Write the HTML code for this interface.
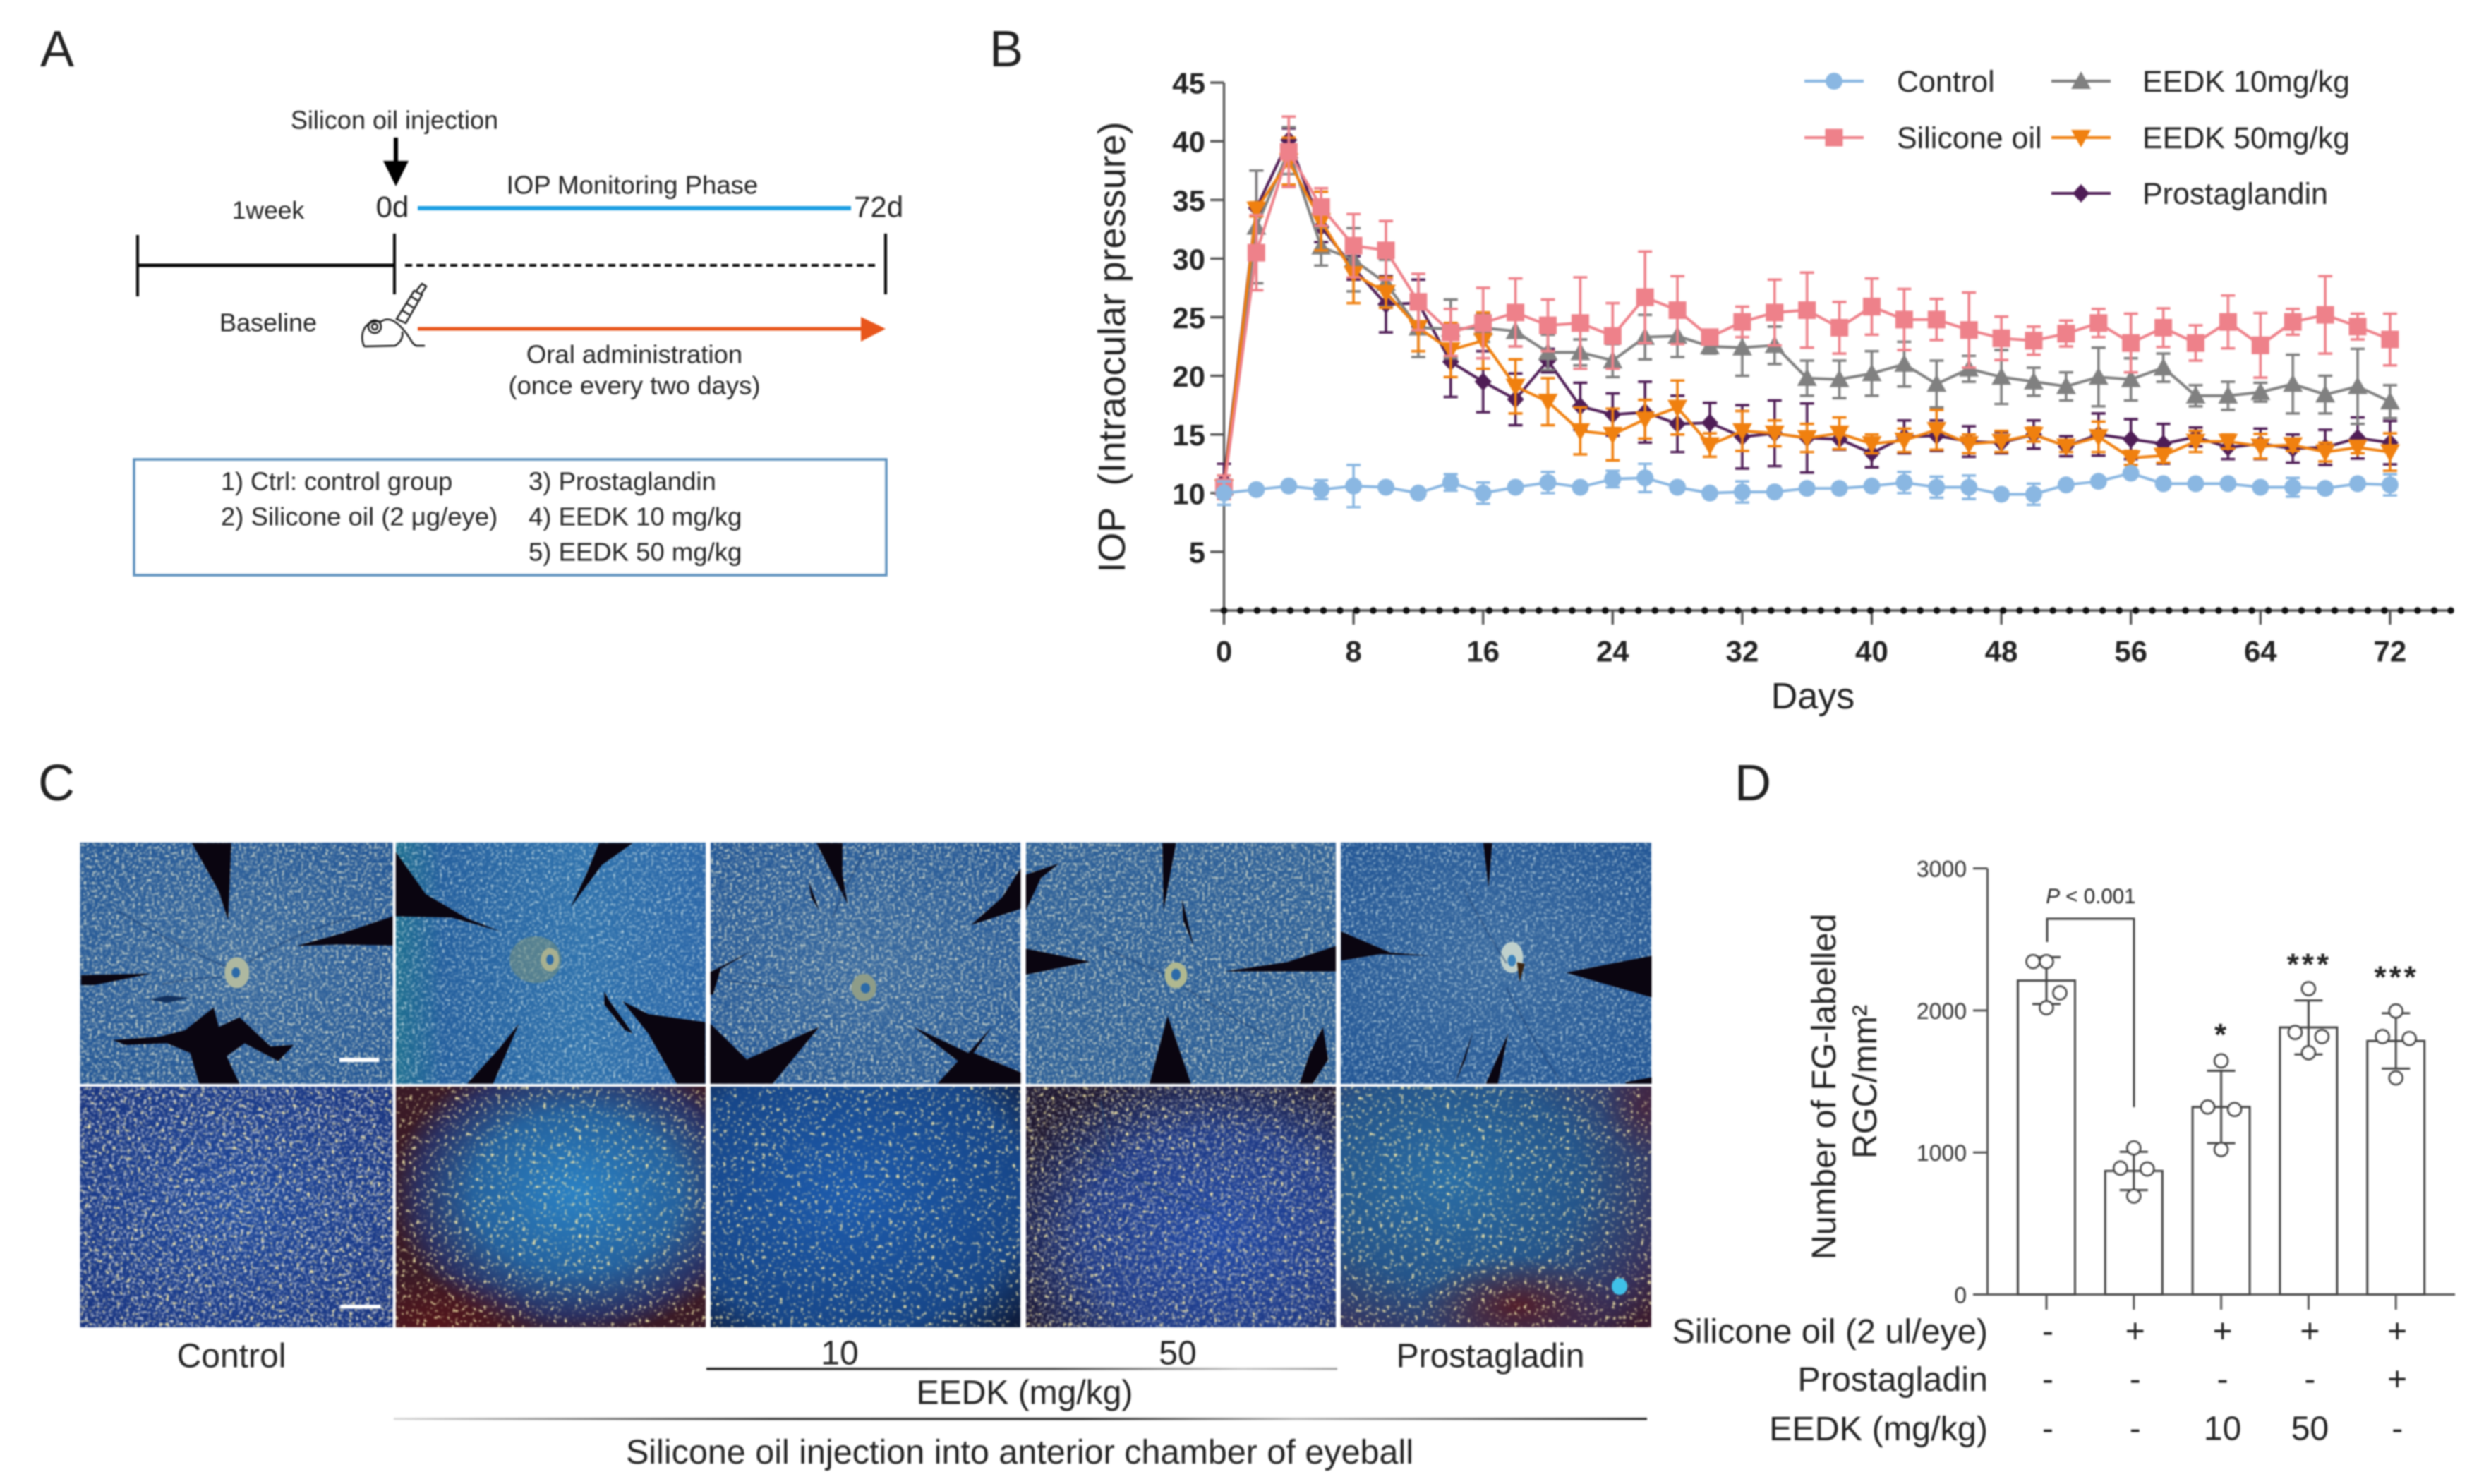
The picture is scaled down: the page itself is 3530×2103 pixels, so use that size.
<!DOCTYPE html>
<html lang="en">
<head>
<meta charset="utf-8">
<title>IOP and RGC figure</title>
<style>
html,body{margin:0;padding:0;background:#fff;width:3530px;height:2103px;overflow:hidden}
svg{display:block;filter:blur(1.1px)}
text{font-family:"Liberation Sans",Arial,sans-serif;fill:#222;dominant-baseline:central}
</style>
</head>
<body>
<svg id="fig" xmlns="http://www.w3.org/2000/svg" width="3530" height="2103" viewBox="0 0 3530 2103">
<defs>
<clipPath id="clipSil"><rect x="561" y="1540" width="439" height="341"/></clipPath>
<clipPath id="clipPro"><rect x="1900" y="1540" width="440" height="341"/></clipPath>
<filter id="speckTop" x="0" y="0" width="100%" height="100%"><feTurbulence type="fractalNoise" baseFrequency="0.26" numOctaves="2" seed="4"/><feColorMatrix type="matrix" values="0 0 0 0 .74  0 0 0 0 .77  0 0 0 0 .62  3.6 0 0 0 -1.78"/><feGaussianBlur stdDeviation="0.9"/></filter>
<filter id="speckTopSoft" x="0" y="0" width="100%" height="100%"><feTurbulence type="fractalNoise" baseFrequency="0.26" numOctaves="2" seed="9"/><feColorMatrix type="matrix" values="0 0 0 0 .66  0 0 0 0 .8  0 0 0 0 .8  3.2 0 0 0 -1.66"/><feGaussianBlur stdDeviation="0.9"/></filter>
<filter id="speckGrey" x="0" y="0" width="100%" height="100%"><feTurbulence type="fractalNoise" baseFrequency="0.24" numOctaves="2" seed="12"/><feColorMatrix type="matrix" values="0 0 0 0 .72  0 0 0 0 .74  0 0 0 0 .72  3.6 0 0 0 -1.85"/><feGaussianBlur stdDeviation="0.9"/></filter>
<filter id="speckYellow" x="0" y="0" width="100%" height="100%"><feTurbulence type="fractalNoise" baseFrequency="0.2" numOctaves="2" seed="21"/><feColorMatrix type="matrix" values="0 0 0 0 .93  0 0 0 0 .82  0 0 0 0 .4  8 0 0 0 -4.9"/><feGaussianBlur stdDeviation="0.8"/></filter>
<radialGradient id="topA" cx="50%" cy="50%" r="70%"><stop offset="0" stop-color="#38699f"/><stop offset="1" stop-color="#215595"/></radialGradient>
<linearGradient id="topB" x1="0" y1="0" x2="1" y2="0"><stop offset="0" stop-color="#1e6f90"/><stop offset=".15" stop-color="#245f9e"/><stop offset=".6" stop-color="#2f72ad"/><stop offset="1" stop-color="#2a66a8"/></linearGradient>
<radialGradient id="botA" cx="50%" cy="50%" r="75%"><stop offset="0" stop-color="#1f4a9e"/><stop offset="1" stop-color="#152f7c"/></radialGradient>
<radialGradient id="botB" cx="58%" cy="44%" r="60%"><stop offset="0" stop-color="#2b82c4"/><stop offset=".55" stop-color="#25629e"/><stop offset=".85" stop-color="#2a2f60"/><stop offset="1" stop-color="#3a1a26"/></radialGradient>
<radialGradient id="botC" cx="45%" cy="45%" r="75%"><stop offset="0" stop-color="#1d5cae"/><stop offset=".75" stop-color="#174688"/><stop offset="1" stop-color="#0e1c3c"/></radialGradient>
<radialGradient id="botD" cx="62%" cy="62%" r="72%"><stop offset="0" stop-color="#2048a4"/><stop offset=".6" stop-color="#1f3a86"/><stop offset="1" stop-color="#1f1830"/></radialGradient>
<radialGradient id="botE" cx="35%" cy="38%" r="85%"><stop offset="0" stop-color="#2a6ea6"/><stop offset=".5" stop-color="#25558a"/><stop offset=".85" stop-color="#36305a"/><stop offset="1" stop-color="#3a1c30"/></radialGradient>
<radialGradient id="redPatch"><stop offset="0" stop-color="#5a1418" stop-opacity=".8"/><stop offset="1" stop-color="#5a1418" stop-opacity="0"/></radialGradient>
<linearGradient id="lineEedk" x1="0" y1="0" x2="1" y2="0"><stop offset="0" stop-color="#222"/><stop offset=".55" stop-color="#555"/><stop offset=".85" stop-color="#ccc"/><stop offset="1" stop-color="#aaa"/></linearGradient>
<linearGradient id="lineInj" x1="0" y1="0" x2="1" y2="0"><stop offset="0" stop-color="#ddd"/><stop offset=".3" stop-color="#444"/><stop offset=".55" stop-color="#333"/><stop offset=".72" stop-color="#bbb"/><stop offset="1" stop-color="#333"/></linearGradient>
</defs>

<text x="81" y="70" font-size="72" text-anchor="middle">A</text>
<text x="1426" y="70" font-size="72" text-anchor="middle">B</text>
<text x="80" y="1110" font-size="72" text-anchor="middle">C</text>
<text x="2484" y="1110" font-size="72" text-anchor="middle">D</text>

<!-- Panel A -->
<g>
<text x="559" y="170" font-size="36" text-anchor="middle">Silicon oil injection</text>
<line x1="561" y1="195" x2="561" y2="232" stroke="#000" stroke-width="6"/>
<polygon points="543,228 579,228 561,264" fill="#000"/>
<text x="556" y="293" font-size="42" text-anchor="middle">0d</text>
<text x="380" y="298" font-size="35.5" text-anchor="middle">1week</text>
<line x1="592" y1="295" x2="1206" y2="295" stroke="#1f9fe3" stroke-width="6"/>
<text x="896" y="262" font-size="36.5" text-anchor="middle">IOP Monitoring Phase</text>
<text x="1210" y="293" font-size="42">72d</text>
<line x1="195" y1="376" x2="559" y2="376" stroke="#000" stroke-width="5"/>
<line x1="195" y1="333" x2="195" y2="420" stroke="#000" stroke-width="4"/>
<line x1="559" y1="331" x2="559" y2="417" stroke="#000" stroke-width="4"/>
<line x1="1255" y1="331" x2="1255" y2="417" stroke="#000" stroke-width="4"/>
<line x1="574" y1="376" x2="1246" y2="376" stroke="#000" stroke-width="4" stroke-dasharray="10 6"/>
<text x="380" y="457" font-size="36" text-anchor="middle">Baseline</text>
<g fill="none" stroke="#111" stroke-width="2.4">
<path d="M516 491 C508 472 518 452 540 456 C552 446 566 460 574 470 C582 480 584 488 590 490 L602 490 M516 491 L560 490 C566 486 572 480 570 470"/>
<circle cx="531" cy="463" r="9"/><circle cx="531" cy="463" r="4"/>
<polygon points="562,452 587,412 598,418 575,458"/>
<path d="M570 440 L580 446 M576 430 L586 436 M582 420 L592 426 M590 412 L598 402 L604 406 L596 418"/>
</g>
<line x1="592" y1="466" x2="1222" y2="466" stroke="#e8561c" stroke-width="5"/>
<polygon points="1220,449 1255,466 1220,484" fill="#e8561c"/>
<text x="899" y="502" font-size="36.5" text-anchor="middle">Oral administration</text>
<text x="899" y="546" font-size="36.5" text-anchor="middle">(once every two days)</text>
<rect x="190" y="651" width="1066" height="164" fill="none" stroke="#5b8fbd" stroke-width="3.5"/>
<text x="313" y="682" font-size="36">1) Ctrl: control group</text>
<text x="313" y="732" font-size="36.5">2) Silicone oil (2 μg/eye)</text>
<text x="749" y="682" font-size="36.5">3) Prostaglandin</text>
<text x="749" y="732" font-size="36.5">4) EEDK 10 mg/kg</text>
<text x="749" y="782" font-size="36.5">5) EEDK 50 mg/kg</text>
</g>

<!-- Panel C photos -->
<g>
<g>
<rect x="113.500" y="1194" width="443" height="342" fill="url(#topA)"/>
<rect x="113.500" y="1194" width="443" height="342" filter="url(#speckTop)"/>
</g>
<g>
<rect x="561" y="1194" width="439" height="342" fill="url(#topB)"/>
<rect x="561" y="1194" width="439" height="342" filter="url(#speckTopSoft)"/>
</g>
<g>
<rect x="1007" y="1194" width="439" height="342" fill="url(#topA)"/>
<rect x="1007" y="1194" width="439" height="342" filter="url(#speckTop)"/>
</g>
<g>
<rect x="1454" y="1194" width="439" height="342" fill="#2c5f98"/>
<rect x="1454" y="1194" width="439" height="342" filter="url(#speckTop)"/>
</g>
<g>
<rect x="1900" y="1194" width="440" height="342" fill="url(#topA)"/>
<rect x="1900" y="1194" width="440" height="342" filter="url(#speckTopSoft)"/>
</g>
<g>
<rect x="113.500" y="1540" width="443" height="341" fill="url(#botA)"/>
<rect x="113.500" y="1540" width="443" height="341" filter="url(#speckGrey)"/>
<rect x="113.500" y="1540" width="443" height="341" filter="url(#speckYellow)"/>
</g>
<g>
<rect x="561" y="1540" width="439" height="341" fill="url(#botB)"/>
<g clip-path="url(#clipSil)"><ellipse cx="620" cy="1875" rx="150" ry="70" fill="url(#redPatch)"/></g>
<rect x="561" y="1540" width="439" height="341" filter="url(#speckYellow)"/>
</g>
<g>
<rect x="1007" y="1540" width="439" height="341" fill="url(#botC)"/>
<rect x="1007" y="1540" width="439" height="341" filter="url(#speckYellow)"/>
</g>
<g>
<rect x="1454" y="1540" width="439" height="341" fill="url(#botD)"/>
<rect x="1454" y="1540" width="439" height="341" filter="url(#speckGrey)" opacity=".65"/>
<rect x="1454" y="1540" width="439" height="341" filter="url(#speckYellow)"/>
</g>
<g>
<rect x="1900" y="1540" width="440" height="341" fill="url(#botE)"/>
<g clip-path="url(#clipPro)"><ellipse cx="2150" cy="1850" rx="140" ry="70" fill="url(#redPatch)"/><ellipse cx="2330" cy="1570" rx="60" ry="70" fill="url(#redPatch)" opacity=".5"/></g>
<rect x="1900" y="1540" width="440" height="341" filter="url(#speckYellow)"/>
<ellipse cx="2295" cy="1823" rx="11" ry="12" fill="#3fc0e8"/>
</g>
<g transform="translate(90 1180) scale(.7334 .4591)" fill="#0a0510">
<polygon points="248,32 324,32 318,270 300,180"/>
<polygon points="636,258 636,348 530,345 450,350 540,310"/>
<polygon points="34,440 170,435 60,470 34,470"/>
<polygon points="165,515 200,503 243,510 200,525" fill="#12305c"/>
<polygon points="95,640 185,630 235,610 270,565 290,540 300,600 340,570 400,660 445,655 415,705 350,650 315,690 340,775 262,775 245,680 200,650 120,655"/>
<polygon points="642,60 700,190 780,265 845,305 750,262 642,258"/>
<polygon points="1035,32 1100,32 1040,100 980,230 1010,130"/>
<polygon points="1080,520 1130,560 1240,585 1240,775 1185,775 1130,620"/>
<polygon points="880,590 830,775 780,775 840,670"/>
<polygon points="1045,490 1055,520 1100,620 1085,610 1045,530"/>
<polygon points="1455,32 1505,32 1505,130 1515,220"/>
<polygon points="1250,430 1330,365 1270,420 1255,500 1250,500"/>
<polygon points="1250,590 1320,700 1460,600 1370,775 1250,775"/>
<polygon points="1440,150 1460,240 1445,200"/>
<ellipse cx="335" cy="432" rx="24" ry="48" fill="#aeb8a0"/><ellipse cx="333" cy="432" rx="8" ry="16" fill="#2c6aa8"/>
<ellipse cx="912" cy="392" rx="50" ry="72" fill="#7d9478" opacity=".5"/><ellipse cx="940" cy="392" rx="18" ry="36" fill="#a8b090"/><ellipse cx="940" cy="392" rx="7" ry="16" fill="#2c6aa8"/>
<rect x="533" y="695" width="77" height="13" fill="#fff"/>
<rect x="535" y="1457" width="78" height="12" fill="#fff"/>
</g>
<g transform="translate(1200 1180) scale(.7334 .4591)" fill="#0a0510">
<polygon points="336,110 336,235 240,285 300,200"/>
<polygon points="130,600 235,680 280,600 245,680 336,740 336,775 175,775 215,705"/>
<polygon points="610,32 636,32 612,240"/>
<polygon points="346,130 410,95 375,140 346,240"/>
<polygon points="346,358 470,398 346,438"/>
<polygon points="945,350 945,428 730,428 850,400"/>
<polygon points="620,565 665,775 585,775"/>
<polygon points="920,600 930,700 900,775 875,775 895,680"/>
<polygon points="648,205 670,350 650,270"/>
<polygon points="1230,32 1247,32 1240,170"/>
<polygon points="955,305 1050,370 1130,380 1030,375 955,395"/>
<polygon points="1555,380 1555,508 1390,432"/>
<polygon points="1210,615 1175,775 1195,700"/>
<polygon points="1278,620 1258,775 1235,775"/>
<polygon points="1505,770 1555,755 1555,775 1505,775"/>
<ellipse cx="33" cy="478" rx="24" ry="42" fill="#8e9c88"/><ellipse cx="36" cy="480" rx="9" ry="16" fill="#2c6aa8"/>
<ellipse cx="636" cy="440" rx="22" ry="40" fill="#b0b890"/><ellipse cx="636" cy="438" rx="9" ry="18" fill="#2c6aa8"/>
<ellipse cx="1285" cy="385" rx="22" ry="48" fill="#bfd0cc"/><ellipse cx="1285" cy="395" rx="8" ry="18" fill="#3a82bc"/>
<polygon points="1295,400 1310,405 1300,460" fill="#3a2410"/>
</g>
<g fill="none" stroke="#143a6e" stroke-width="2.6" opacity=".45">
<path d="M320 1370 Q250 1340 165 1290 M315 1385 Q270 1385 230 1395 M350 1365 Q420 1320 500 1300"/>
<path d="M1030 1390 Q1070 1395 1120 1400 M1180 1300 Q1200 1250 1230 1200"/>
<path d="M1650 1380 Q1600 1360 1560 1340 M1680 1400 Q1740 1440 1800 1470"/>
<path d="M2135 1365 Q2100 1310 2075 1260 M2135 1400 Q2170 1470 2210 1530"/>
<path d="M1520 1620 Q1620 1680 1720 1720 M1560 1560 L1575 1640"/>
</g>
</g>

<!-- Panel C labels -->
<g>
<text x="328" y="1922" font-size="48" text-anchor="middle">Control</text>
<text x="1190" y="1918" font-size="48" text-anchor="middle">10</text>
<text x="1669" y="1918" font-size="48" text-anchor="middle">50</text>
<text x="2112" y="1922" font-size="48" text-anchor="middle">Prostagladin</text>
<rect x="1001" y="1938" width="894" height="3.500" fill="url(#lineEedk)"/>
<text x="1452" y="1974" font-size="48" text-anchor="middle">EEDK (mg/kg)</text>
<rect x="558" y="2009" width="1776" height="3.500" fill="url(#lineInj)"/>
<text x="1445" y="2058" font-size="48.500" text-anchor="middle">Silicone oil injection into anterior chamber of eyeball</text>
</g>

<g id="chartB"></g>
<g id="chartD"></g>
</svg>

<script>
// Panel B data
var iopDays = [0,2,4,6,8,10,12,14,16,18,20,22,24,26,28,30,32,34,36,38,40,42,44,46,48,50,52,54,56,58,60,62,64,66,68,70,72];
var iopTicksY = [5,10,15,20,25,30,35,40,45];
var iopTicksX = [0,8,16,24,32,40,48,56,64,72];
var baselineDotCount = 75;
var controlMean = [10,10.3,10.6,10.3,10.6,10.5,10,10.9,10,10.5,10.9,10.5,11.2,11.3,10.5,10,10.1,10.1,10.4,10.4,10.6,10.9,10.5,10.5,9.9,9.9,10.7,11,11.7,10.8,10.8,10.8,10.5,10.5,10.4,10.8,10.7];
var controlErr = [1,.2,.2,.8,1.8,.2,.2,.7,.9,.2,.9,.2,.7,1.2,.2,.2,.9,.2,.2,.2,.2,.9,.9,1,.2,.9,.2,.2,.2,.2,.2,.2,.2,.8,.2,.2,.9];
var siliconeMean = [10.5,30.5,39.1,34.4,31.1,30.7,26.3,23.7,24.5,25.4,24.3,24.5,23.4,26.7,25.6,23.3,24.6,25.4,25.6,24.1,25.9,24.8,24.8,23.9,23.2,23,23.6,24.5,22.8,24.1,22.8,24.6,22.6,24.6,25.2,24.2,23.1];
var siliconeErr = [1,3.2,3,1.6,2.7,2.5,2.4,2,3,2.9,2.2,3.9,2.8,3.9,2.9,.5,1.3,2.8,3.2,2.2,2.4,2.6,1.75,3.2,1.85,1.2,1.1,1.2,2.5,1.65,1.5,2.25,2.75,1.1,3.3,1.1,2.2];
var eedk10Mean = [10.5,32.7,39.2,31,29.9,27.9,24.1,24,24.1,23.8,22,22,21.3,23.3,23.4,22.5,22.4,22.6,19.8,19.7,20.2,21,19.3,20.6,19.9,19.5,19.1,19.9,19.7,20.7,18.3,18.3,18.6,19.3,18.4,19.1,17.8];
var eedk10Err = [1,4.8,2,1.6,2.7,2,2.5,2.5,1.2,1.3,1.5,1.1,1.4,1.9,1.8,.6,2.4,1.6,1.5,1.6,1.9,1.9,2,1.1,2.3,1.2,1.2,2.5,1.8,1.2,.9,1.2,.8,2.5,1.6,3.2,1.4];
var eedk50Mean = [10.5,34.2,38.3,33.2,28.7,27.1,24.1,22.2,23,19.1,17.8,15.3,15,16.3,17.3,14.1,15.3,15.1,14.7,15.1,14.2,14.5,15.4,14.2,14.4,15,14,14.8,13,13.2,14.4,14.4,14,14.1,13.5,13.9,13.5];
var eedk50Err = [1,.6,2,2.5,2.5,1.3,2,2.3,2.4,2.3,2,2,2.2,1.65,2.3,1,1.7,1.1,1.2,1.35,.8,1,1.7,.8,.9,.6,.5,1.3,.6,.6,.9,.6,1.05,.5,.8,.5,1.6];
var prostaMean = [11,34.3,40.1,32.7,29.2,26.1,26.2,21.2,19.5,18,21.3,17.4,16.7,16.9,15.9,16,14.8,15.1,14.7,14.6,13.4,14.8,14.9,14.4,14.3,15,14,15,14.6,14.2,14.8,13.9,14.2,13.8,13.9,14.7,14.3];
var prostaErr = [1.5,3.2,1,1.3,1,2.4,2,3,2.6,2.2,1,2,1.8,2.6,2.4,1.7,2.7,2.8,2.95,.9,1.2,1.4,1.3,1.3,.9,1.2,.85,1.8,1.7,1.7,.8,1,1.3,1.2,1.5,1.75,1.85];
var legendNames = ["Control","Silicone oil","EEDK 10mg/kg","EEDK 50mg/kg","Prostaglandin"];

// Panel D data
var rgcGroups = ["control","silicone","eedk-10","eedk-50","prostaglandin"];
var rgcMean = [2210,870,1320,1880,1785];
var rgcSd = [165,135,255,190,195];
var rgcPointsTop = [2344,1032,1645,2153,1996];
var rgcPointsLeft = [2344,890,1320,1845,1816];
var rgcPointsRight = [2124,884,1303,1816,1802];
var rgcPointsBottom = [2019,693,1021,1702,1525];
var rgcTicks = [0,1000,2000,3000];
var rgcStars = ["","","*","***","***"];
var rowSilicone = ["-","+","+","+","+"];
var rowProstagladin = ["-","-","-","-","+"];
var rowEedk = ["-","-","10","50","-"];

var NS = "http://www.w3.org/2000/svg";
function mk(parent, tag, attrs, txt){
  var e = document.createElementNS(NS, tag);
  for (var k in attrs) e.setAttribute(k, attrs[k]);
  if (txt !== undefined) e.textContent = txt;
  parent.appendChild(e);
  return e;
}
var gB = document.getElementById("chartB");
var gD = document.getElementById("chartD");

function xB(d){ return 1734.5 + d * 22.95; }
function yB(v){ return 865 - v * 16.62; }

function drawMarker(parent, kind, cx, cy, color){
  var m;
  if (kind === "circle") m = mk(parent, "ellipse", {cx:cx, cy:cy, rx:12, ry:12, fill:color});
  else if (kind === "square") m = mk(parent, "rect", {x:cx-12.5, y:cy-12.5, width:25, height:25, fill:color});
  else if (kind === "up") m = mk(parent, "polygon", {points:(cx-14)+","+(cy+11)+" "+(cx+14)+","+(cy+11)+" "+cx+","+(cy-14), fill:color});
  else if (kind === "down") m = mk(parent, "polygon", {points:(cx-14)+","+(cy-11)+" "+(cx+14)+","+(cy-11)+" "+cx+","+(cy+14), fill:color});
  else m = mk(parent, "polygon", {points:(cx-12)+","+cy+" "+cx+","+(cy-13)+" "+(cx+12)+","+cy+" "+cx+","+(cy+13), fill:color});
  return m;
}

function drawSeries(key, mean, err, color, kind){
  var g = mk(gB, "g", {});
  
  
  var pts = [];
  for (var i = 0; i < iopDays.length; i++){
    var x = xB(iopDays[i]), y = yB(mean[i]);
    pts.push(x + "," + y);
    var hi = yB(mean[i] + err[i]), lo = yB(mean[i] - err[i]);
    var eb = mk(g, "path", {d:"M"+x+" "+hi+"V"+lo+"M"+(x-10)+" "+hi+"H"+(x+10)+"M"+(x-10)+" "+lo+"H"+(x+10), fill:"none", stroke:color, "stroke-width":3.6});
    
    
  }
  var ln = mk(g, "polyline", {points:pts.join(" "), fill:"none", stroke:color, "stroke-width":4});
  
  
  for (var j = 0; j < iopDays.length; j++){
    var mk1 = drawMarker(g, kind, xB(iopDays[j]), yB(mean[j]), color);
    
    
  }
}

// Axis B
var axisB = mk(gB, "g", {stroke:"#555", "stroke-width":3.4, fill:"none"});


mk(axisB, "line", {x1:xB(0), y1:yB(45), x2:xB(0), y2:885});
mk(axisB, "line", {x1:1715, y1:yB(0), x2:3473, y2:yB(0)});
iopTicksY.forEach(function(v){
  mk(axisB, "line", {x1:1715, y1:yB(v), x2:xB(0), y2:yB(v)});
  var t = mk(gB, "text", {x:1708, y:yB(v)+1, "font-size":42, "font-weight":"bold", "text-anchor":"end"}, String(v));
  
  
});
iopTicksX.forEach(function(d){
  mk(axisB, "line", {x1:xB(d), y1:yB(0), x2:xB(d), y2:885});
  var t = mk(gB, "text", {x:xB(d), y:923, "font-size":42, "font-weight":"bold", "text-anchor":"middle"}, String(d));
  
  
});
for (var b = 0; b < baselineDotCount; b++){
  var dot = mk(gB, "circle", {cx:1734.5 + (3473-1734.5)*b/(baselineDotCount-1), cy:yB(0), r:4.8, fill:"#111"});
  
  
}
var yt = mk(gB, "text", {x:1576, y:492, "font-size":54, "text-anchor":"middle", transform:"rotate(-90 1576 492)"}, "IOP\u00A0\u00A0(Intraocular pressure)");


var xt = mk(gB, "text", {x:2569, y:987, "font-size":52, "text-anchor":"middle"}, "Days");



drawSeries("prostaglandin", prostaMean, prostaErr, "#4f1d56", "diamond");
drawSeries("eedk-10", eedk10Mean, eedk10Err, "#808080", "up");
drawSeries("eedk-50", eedk50Mean, eedk50Err, "#f0800f", "down");
drawSeries("silicone-oil", siliconeMean, siliconeErr, "#ee818a", "square");
drawSeries("control", controlMean, controlErr, "#8ab7e2", "circle");

// Legend
function legend(idx, lineX, textX, rowY, color, kind){
  var g = mk(gB, "g", {});
  
  
  mk(g, "line", {x1:lineX, y1:rowY, x2:lineX+84, y2:rowY, stroke:color, "stroke-width":4});
  drawMarker(g, kind, lineX+42, rowY, color);
  mk(g, "text", {x:textX, y:rowY+1, "font-size":43}, legendNames[idx]);
}
legend(0, 2557, 2688, 115, "#8ab7e2", "circle");
legend(1, 2557, 2688, 195, "#ee818a", "square");
legend(2, 2907, 3036, 115, "#808080", "up");
legend(3, 2907, 3036, 195, "#f0800f", "down");
legend(4, 2907, 3036, 274, "#4f1d56", "diamond");

// Panel D
function yD(v){ return 1834.5 - v * 0.2013; }
function xD(i){ return 2900 + i * 123.8; }
var axD = mk(gD, "g", {stroke:"#555", "stroke-width":3, fill:"none"});


mk(axD, "line", {x1:2816.5, y1:yD(3000), x2:2816.5, y2:yD(0)});
mk(axD, "line", {x1:2796, y1:yD(0), x2:3479, y2:yD(0)});
rgcTicks.forEach(function(v){
  mk(axD, "line", {x1:2796, y1:yD(v), x2:2816.5, y2:yD(v)});
  var t = mk(gD, "text", {x:2787, y:yD(v)+1, "font-size":32, "text-anchor":"end", style:"fill:#333"}, String(v));
  
  
});
rgcGroups.forEach(function(name, i){
  var g = mk(gD, "g", {});
  
  
  var x = xD(i), w = 81;
  mk(g, "rect", {x:x-w/2, y:yD(rgcMean[i]), width:w, height:yD(0)-yD(rgcMean[i]), fill:"#fff", stroke:"#444", "stroke-width":3});
  mk(g, "line", {x1:x, y1:yD(0), x2:x, y2:1856, stroke:"#555", "stroke-width":3});
  var hi = yD(rgcMean[i]+rgcSd[i]), lo = yD(rgcMean[i]-rgcSd[i]);
  mk(g, "path", {d:"M"+x+" "+hi+"V"+lo+"M"+(x-20)+" "+hi+"H"+(x+20)+"M"+(x-20)+" "+lo+"H"+(x+20), fill:"none", stroke:"#444", "stroke-width":3});
  [[rgcPointsTop,0],[rgcPointsLeft,-1],[rgcPointsRight,1],[rgcPointsBottom,0]].forEach(function(p){
    var c = mk(g, "ellipse", {cx:x+p[1]*19, cy:yD(p[0][i]), rx:9.5, ry:9.5, fill:"#fff", stroke:"#444", "stroke-width":2.6});
    
    
  });
  if (rgcStars[i]) {
    var s = mk(g, "text", {x:x+1, y:yD(rgcMean[i]+rgcSd[i]) - 51, "font-size":44, "font-weight":"bold", "text-anchor":"middle", "letter-spacing":"4"}, rgcStars[i]);
    
    
  }
  var r1 = mk(gD, "text", {x:x+2, y:1887, "font-size":48, "text-anchor":"middle"}, rowSilicone[i]);
  
  
  var r2 = mk(gD, "text", {x:x+2, y:1955, "font-size":48, "text-anchor":"middle"}, rowProstagladin[i]);
  
  
  var r3 = mk(gD, "text", {x:x+2, y:2025, "font-size":48, "text-anchor":"middle"}, rowEedk[i]);
  
  
});
var br = mk(gD, "path", {d:"M2901 1335V1302H3024V1569", fill:"none", stroke:"#444", "stroke-width":3});


var pl = mk(gD, "text", {x:2963, y:1270, "font-size":29.5, "text-anchor":"middle"});


mk(pl, "tspan", {"font-style":"italic"}, "P");
mk(pl, "tspan", {}, " < 0.001");
var t1 = mk(gD, "text", {x:2585, y:1540, "font-size":48.5, "text-anchor":"middle", transform:"rotate(-90 2585 1540)"}, "Number of FG-labelled");


var t2 = mk(gD, "text", {x:2643, y:1533, "font-size":48.5, "text-anchor":"middle", transform:"rotate(-90 2643 1533)"}, "RGC/mm²");


var l1 = mk(gD, "text", {x:2817, y:1887, "font-size":48.5, "text-anchor":"end"}, "Silicone oil (2 ul/eye)");


var l2 = mk(gD, "text", {x:2817, y:1955, "font-size":48.5, "text-anchor":"end"}, "Prostagladin");


var l3 = mk(gD, "text", {x:2817, y:2025, "font-size":48.5, "text-anchor":"end"}, "EEDK (mg/kg)");


</script>
</body>
</html>
